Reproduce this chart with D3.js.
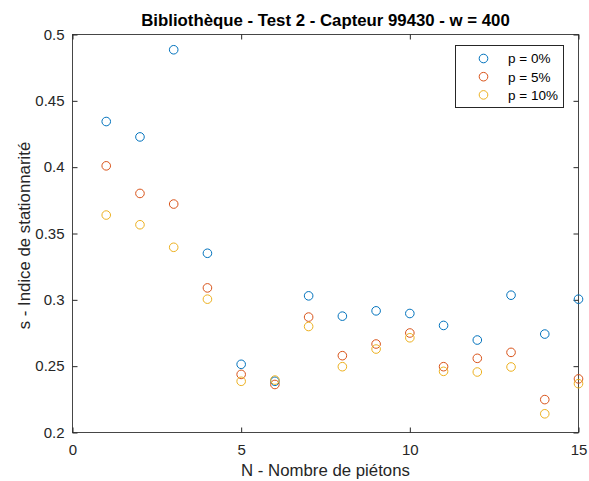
<!DOCTYPE html>
<html><head><meta charset="utf-8">
<script src="https://cdn.jsdelivr.net/npm/d3@7"></script>
<style>body{margin:0;background:#fff;} svg{display:block;font-family:"Liberation Sans",Arial,sans-serif;}</style>
</head><body><svg id="c" width="589" height="481"></svg>
<script>
const nValues = [1,2,3,4,5,6,7,8,9,10,11,12,13,14,15];
const p0  = [0.4344,0.4228,0.4885,0.3351,0.2514,0.2386,0.3030,0.2877,0.2917,0.2897,0.2807,0.2697,0.3035,0.2742,0.3005];
const p5  = [0.4010,0.3802,0.3722,0.3090,0.2438,0.2362,0.2870,0.2579,0.2667,0.2750,0.2496,0.2559,0.2604,0.2248,0.2404];
const p10 = [0.3639,0.3566,0.3396,0.3005,0.2386,0.2395,0.2799,0.2496,0.2629,0.2714,0.2461,0.2456,0.2494,0.2141,0.2368];
const seriesNames = ["p = 0%","p = 5%","p = 10%"];
const seriesColors = ["#0072BD","#D95319","#EDB120"];
const xTicks = [0,5,10,15];
const yTicks = [0.2,0.25,0.3,0.35,0.4,0.45,0.5];
const title = "Bibliothèque - Test 2 - Capteur 99430 - w = 400";
const xLabel = "N - Nombre de piétons";
const yLabel = "s - Indice de stationnarité";

const svg = d3.select("#c");
const L=72.5, R=578.5, T=34.5, B=432.5;
const x = d3.scaleLinear().domain([0,15]).range([L,R]);
const y = d3.scaleLinear().domain([0.2,0.5]).range([B,T]);
const axisColor="#262626";
const ff="'Liberation Sans',Arial,sans-serif";

const g = svg.append("g");
g.append("rect").attr("x",L).attr("y",T).attr("width",R-L).attr("height",B-T)
 .attr("fill","none").attr("stroke",axisColor).attr("stroke-width",1).attr("opacity",0.85);

const xb = g.append("g").attr("transform",`translate(0,${B})`).call(d3.axisBottom(x).tickValues(xTicks).tickSizeInner(-5).tickSizeOuter(0).tickPadding(12).tickFormat(d3.format("d")));
const xt = g.append("g").attr("transform",`translate(0,${T})`).call(d3.axisTop(x).tickValues(xTicks).tickSizeInner(-5).tickSizeOuter(0).tickFormat(""));
const yl = g.append("g").attr("transform",`translate(${L},0)`).call(d3.axisLeft(y).tickValues(yTicks).tickSizeInner(-5).tickSizeOuter(0).tickPadding(8).tickFormat(d=>String(+d.toFixed(2))));
const yr = g.append("g").attr("transform",`translate(${R},0)`).call(d3.axisRight(y).tickValues(yTicks).tickSizeInner(-5).tickSizeOuter(0).tickFormat(""));
[xb,xt,yl,yr].forEach(a=>{a.select(".domain").remove(); a.selectAll("line").attr("stroke",axisColor); a.selectAll("text").attr("fill",axisColor).style("font-size","15px").style("font-family",ff);});

const all=[p0,p5,p10];
all.forEach((vals,si)=>{
  g.append("g").selectAll("circle").data(vals).join("circle")
   .attr("cx",(d,i)=>x(nValues[i])).attr("cy",d=>y(d)).attr("r",4.3)
   .attr("fill","none").attr("stroke",seriesColors[si]).attr("stroke-width",1);
});

const lg = svg.append("g");
lg.append("rect").attr("x",455.5).attr("y",45.5).attr("width",108).attr("height",62)
  .attr("fill","#fff").attr("stroke",axisColor).attr("stroke-width",1);
seriesNames.forEach((nm,i)=>{
  const yy = 58.5 + i*18.2;
  lg.append("circle").attr("cx",483.5).attr("cy",yy).attr("r",4.3).attr("fill","none").attr("stroke",seriesColors[i]);
  lg.append("text").attr("x",508).attr("y",yy).attr("dy","0.36em").text(nm).attr("fill","#000").style("font-size","13.5px");
});

svg.append("text").attr("x",(L+R)/2).attr("y",26).attr("text-anchor","middle").attr("fill","#000")
  .style("font-size","16.8px").style("font-weight","bold").text(title);
svg.append("text").attr("x",(L+R)/2).attr("y",475.5).attr("text-anchor","middle").attr("fill",axisColor)
  .style("font-size","16.8px").text(xLabel);
svg.append("text").attr("transform",`translate(30,${(T+B)/2+2}) rotate(-90)`).attr("text-anchor","middle").attr("fill",axisColor)
  .style("font-size","16.8px").text(yLabel);
</script></body></html>
